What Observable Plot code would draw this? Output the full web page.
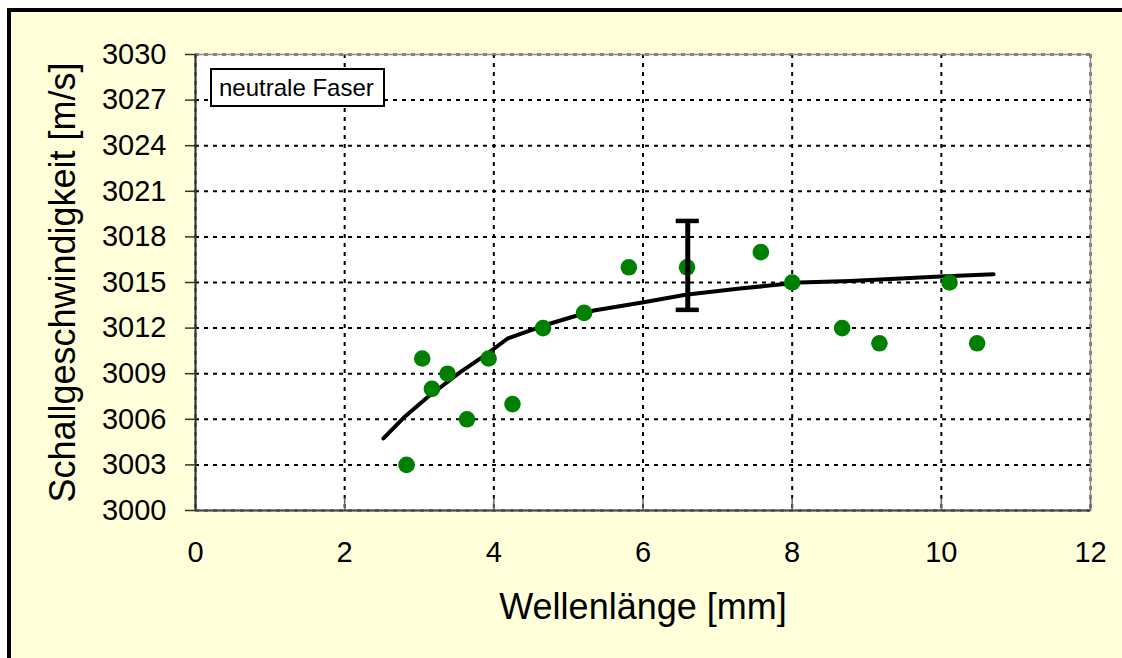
<!DOCTYPE html>
<html>
<head>
<meta charset="utf-8">
<script src="https://cdn.jsdelivr.net/npm/d3@7"></script>
<script src="https://cdn.jsdelivr.net/npm/@observablehq/plot@0.6"></script>
<style>
  html, body { margin: 0; padding: 0; background: #ffffff; overflow: hidden; }
  #wrap { position: relative; width: 1122px; height: 658px; overflow: hidden; background: #ffffff; font-family: "Liberation Sans", Arial, sans-serif; }
  #bg { position: absolute; left: 7px; top: 8px; width: 1300px; height: 800px; background: #FFFFD9; border-left: 4px solid #000; border-top: 4px solid #000; }
  #chart { position: absolute; left: 0; top: 0; }
  #legend { position: absolute; left: 210px; top: 68px; width: 171px; height: 35px; border: 2px solid #000; background: #fff; font-size: 24px; line-height: 35px; box-sizing: content-box; }
  #legend span { margin-left: 7px; }
</style>
</head>
<body>
<div id="wrap">
  <div id="bg"></div>
  <div id="chart"></div>
  <div id="legend"><span>neutrale Faser</span></div>
</div>
<script>
// Measured points
const wavelength = [2.83, 3.04, 3.17, 3.38, 3.64, 3.93, 4.25, 4.66, 5.21, 5.81, 6.59, 7.58, 8.0, 8.67, 9.17, 10.11, 10.48];
const speed      = [3003, 3010, 3008, 3009, 3006, 3010, 3007, 3012, 3013, 3016, 3016, 3017, 3015, 3012, 3011, 3015, 3011];

// Fitted curve
const curveX = [2.52, 2.79, 3.11, 3.55, 3.91, 4.18, 4.67, 5.34, 6.01, 6.57, 7.3, 8.1, 8.78, 9.99, 10.7];
const curveY = [3004.74, 3006.1, 3007.45, 3009.1, 3010.3, 3011.3, 3012.17, 3013.16, 3013.7, 3014.2, 3014.6, 3015.0, 3015.1, 3015.4, 3015.55];

// Error bar
const errX = [6.6];
const errLow = [3013.2];
const errHigh = [3019.05];
const capHalfWidth = 0.155;

// Axes
const xTicks = [0, 2, 4, 6, 8, 10, 12];
const yTicks = [3000, 3003, 3006, 3009, 3012, 3015, 3018, 3021, 3024, 3027, 3030];
const xTitle = "Wellenlänge [mm]";
const yTitle = "Schallgeschwindigkeit [m/s]";

const points = wavelength.map((x, i) => ({x, y: speed[i]}));
const curve = curveX.map((x, i) => ({x, y: curveY[i]}));
const errs = errX.map((x, i) => ({x, lo: errLow[i], hi: errHigh[i]}));

const chart = Plot.plot({
  width: 1122,
  height: 658,
  marginLeft: 195,
  marginRight: 32,
  marginTop: 54,
  marginBottom: 148,
  style: { background: "transparent", fontFamily: "'Liberation Sans', Arial, sans-serif", color: "#000" },
  x: { domain: [0, 12] },
  y: { domain: [3000, 3030] },
  marks: [
    Plot.frame({ fill: "#ffffff", stroke: "none" }),
    Plot.gridX(xTicks, { stroke: "#000", strokeOpacity: 1, strokeWidth: 2, strokeDasharray: "4,5" }),
    Plot.gridY(yTicks, { stroke: "#000", strokeOpacity: 1, strokeWidth: 2, strokeDasharray: "4,5" }),
    Plot.frame({ stroke: "#8c8c8c", strokeWidth: 1.5, fill: "none" }),
    Plot.ruleX(xTicks, { y1: 3000, y2: 3000.8, stroke: "#666", strokeWidth: 1.5 }),
    Plot.ruleX([0], { stroke: "#333", strokeWidth: 2 }),
    Plot.ruleY([3000], { stroke: "#444", strokeWidth: 2 }),
    Plot.axisY({ ticks: yTicks, tickSize: 10, tickPadding: 19, fontSize: 29, tickFormat: d => String(d), stroke: "#333", strokeWidth: 1.5, label: null }),
    Plot.axisX({ ticks: xTicks, tickSize: 0, tickPadding: 31, fontSize: 29, tickFormat: d => String(d), label: null }),
    Plot.text([xTitle], { frameAnchor: "bottom", dy: 97, fontSize: 36, lineAnchor: "middle", textAnchor: "middle", fill: "#000" }),
    Plot.text([yTitle], { frameAnchor: "left", dx: -132, rotate: -90, fontSize: 36, lineAnchor: "middle", textAnchor: "middle", fill: "#000" }),
    Plot.line(curve, { x: "x", y: "y", stroke: "#000", strokeWidth: 4, strokeLinejoin: "round" }),
    Plot.dot(points, { x: "x", y: "y", r: 8.3, fill: "#008000", stroke: "none" }),
    Plot.ruleX(errs, { x: "x", y1: "lo", y2: "hi", stroke: "#000", strokeWidth: 5 }),
    Plot.ruleY(errs, { y: "lo", x1: d => d.x - capHalfWidth, x2: d => d.x + capHalfWidth, stroke: "#000", strokeWidth: 4.5 }),
    Plot.ruleY(errs, { y: "hi", x1: d => d.x - capHalfWidth, x2: d => d.x + capHalfWidth, stroke: "#000", strokeWidth: 4.5 })
  ]
});
document.getElementById("chart").appendChild(chart);
</script>
</body>
</html>
